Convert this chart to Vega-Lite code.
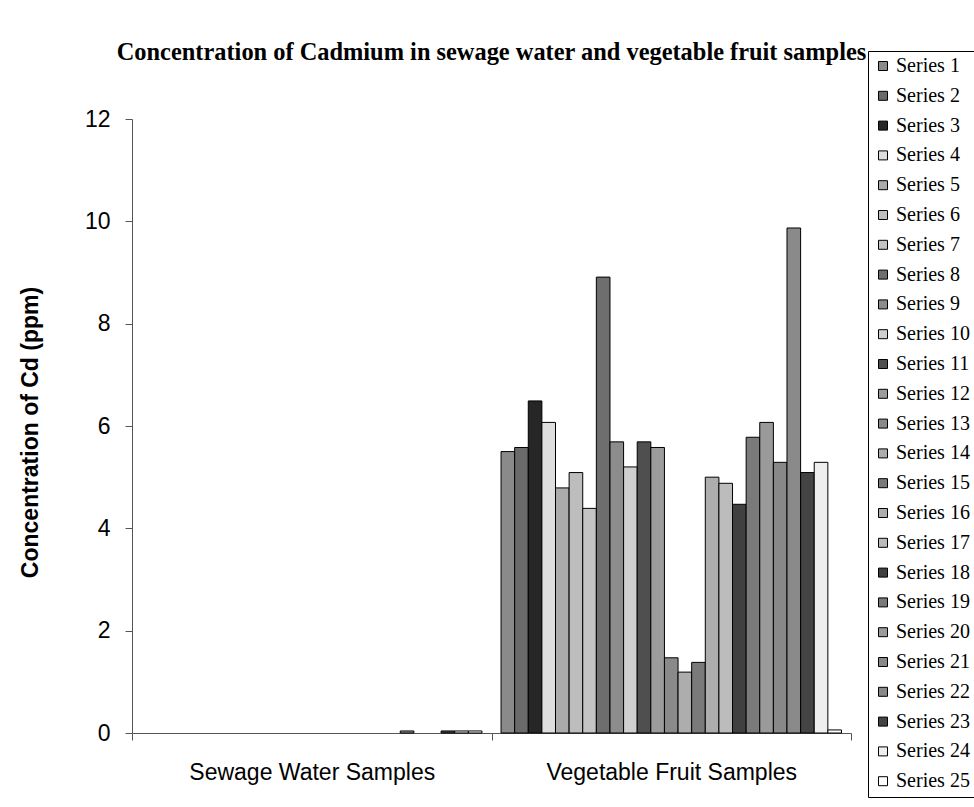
{
  "$schema": "https://vega.github.io/schema/vega-lite/v6.json",
  "autosize": {"type": "none"},
  "padding": {"left": 132, "top": 119, "right": 123, "bottom": 74},
  "width": 719,
  "height": 614,
  "background": "white",
  "title": {
    "text": "Concentration of Cadmium in sewage water and vegetable fruit samples",
    "font": "Liberation Serif",
    "fontSize": 24.4,
    "fontWeight": "bold",
    "color": "black",
    "anchor": "middle",
    "frame": "group",
    "baseline": "alphabetic",
    "offset": -34
  },
  "data": {
    "values": [
      {"sample": "Sewage Water Samples", "series": "Series 20", "cd": 0.04},
      {"sample": "Sewage Water Samples", "series": "Series 23", "cd": 0.04},
      {"sample": "Sewage Water Samples", "series": "Series 24", "cd": 0.04},
      {"sample": "Sewage Water Samples", "series": "Series 25", "cd": 0.04},
      {"sample": "Vegetable Fruit Samples", "series": "Series 1", "cd": 5.5},
      {"sample": "Vegetable Fruit Samples", "series": "Series 2", "cd": 5.58},
      {"sample": "Vegetable Fruit Samples", "series": "Series 3", "cd": 6.49},
      {"sample": "Vegetable Fruit Samples", "series": "Series 4", "cd": 6.07},
      {"sample": "Vegetable Fruit Samples", "series": "Series 5", "cd": 4.79},
      {"sample": "Vegetable Fruit Samples", "series": "Series 6", "cd": 5.09},
      {"sample": "Vegetable Fruit Samples", "series": "Series 7", "cd": 4.39},
      {"sample": "Vegetable Fruit Samples", "series": "Series 8", "cd": 8.91},
      {"sample": "Vegetable Fruit Samples", "series": "Series 9", "cd": 5.69},
      {"sample": "Vegetable Fruit Samples", "series": "Series 10", "cd": 5.2},
      {"sample": "Vegetable Fruit Samples", "series": "Series 11", "cd": 5.69},
      {"sample": "Vegetable Fruit Samples", "series": "Series 12", "cd": 5.58},
      {"sample": "Vegetable Fruit Samples", "series": "Series 13", "cd": 1.47},
      {"sample": "Vegetable Fruit Samples", "series": "Series 14", "cd": 1.19},
      {"sample": "Vegetable Fruit Samples", "series": "Series 15", "cd": 1.38},
      {"sample": "Vegetable Fruit Samples", "series": "Series 16", "cd": 5.0},
      {"sample": "Vegetable Fruit Samples", "series": "Series 17", "cd": 4.88},
      {"sample": "Vegetable Fruit Samples", "series": "Series 18", "cd": 4.47},
      {"sample": "Vegetable Fruit Samples", "series": "Series 19", "cd": 5.78},
      {"sample": "Vegetable Fruit Samples", "series": "Series 20", "cd": 6.07},
      {"sample": "Vegetable Fruit Samples", "series": "Series 21", "cd": 5.29},
      {"sample": "Vegetable Fruit Samples", "series": "Series 22", "cd": 9.87},
      {"sample": "Vegetable Fruit Samples", "series": "Series 23", "cd": 5.09},
      {"sample": "Vegetable Fruit Samples", "series": "Series 24", "cd": 5.29},
      {"sample": "Vegetable Fruit Samples", "series": "Series 25", "cd": 0.06}
    ]
  },
  "mark": {"type": "bar", "stroke": "black", "strokeWidth": 1},
  "encoding": {
    "x": {
      "field": "sample",
      "type": "nominal",
      "title": null,
      "sort": ["Sewage Water Samples", "Vegetable Fruit Samples"],
      "scale": {"paddingInner": 0, "paddingOuter": 0},
      "axis": {
        "labelAngle": 0,
        "labelFont": "Liberation Sans",
        "labelFontSize": 23,
        "labelColor": "black",
        "labelBaseline": "top",
        "labelPadding": 21,
        "tickBand": "extent",
        "tickSize": 7,
        "tickColor": "#555",
        "domainColor": "#555",
        "labelLimit": 400
      }
    },
    "xOffset": {
      "field": "series",
      "type": "nominal",
      "scale": {
        "domain": ["Series 1","Series 2","Series 3","Series 4","Series 5","Series 6","Series 7","Series 8","Series 9","Series 10","Series 11","Series 12","Series 13","Series 14","Series 15","Series 16","Series 17","Series 18","Series 19","Series 20","Series 21","Series 22","Series 23","Series 24","Series 25"],
        "paddingInner": 0,
        "paddingOuter": 0.7
      }
    },
    "y": {
      "field": "cd",
      "type": "quantitative",
      "title": "Concentration of Cd (ppm)",
      "scale": {"domain": [0, 12], "nice": false},
      "axis": {
        "values": [0, 2, 4, 6, 8, 10, 12],
        "grid": false,
        "labelFont": "Liberation Sans",
        "labelFontSize": 23,
        "labelColor": "black",
        "labelPadding": 15,
        "tickSize": 7,
        "tickColor": "#555",
        "domainColor": "#555",
        "titleFont": "Liberation Sans",
        "titleFontSize": 23,
        "titleFontWeight": "bold",
        "titleColor": "black",
        "titleBaseline": "middle",
        "titleX": -102,
        "titleY": 313
      }
    },
    "color": {
      "field": "series",
      "type": "nominal",
      "title": null,
      "scale": {
        "domain": ["Series 1","Series 2","Series 3","Series 4","Series 5","Series 6","Series 7","Series 8","Series 9","Series 10","Series 11","Series 12","Series 13","Series 14","Series 15","Series 16","Series 17","Series 18","Series 19","Series 20","Series 21","Series 22","Series 23","Series 24","Series 25"],
        "range": ["#8a8a8a","#6a6a6a","#262626","#dedede","#ababab","#bdbdbd","#c4c4c4","#6e6e6e","#8c8c8c","#cfcfcf","#4f4f4f","#9c9c9c","#8a8a8a","#adadad","#7a7a7a","#adadad","#bcbcbc","#404040","#7a7a7a","#9a9a9a","#888888","#8a8a8a","#444444","#eeeeee","#ffffff"]
      },
      "legend": {
        "orient": "none",
        "legendX": 736,
        "legendY": -68,
        "direction": "vertical",
        "symbolType": "square",
        "symbolSize": 81,
        "symbolStrokeColor": "black",
        "symbolStrokeWidth": 1,
        "labelFont": "Liberation Serif",
        "labelFontSize": 20,
        "labelColor": "black",
        "labelOffset": 3,
        "rowPadding": 9.8,
        "padding": 5,
        "strokeColor": "black",
        "fillColor": "white",
        "labelLimit": 200
      }
    }
  },
  "config": {
    "view": {"stroke": null}
  }
}
